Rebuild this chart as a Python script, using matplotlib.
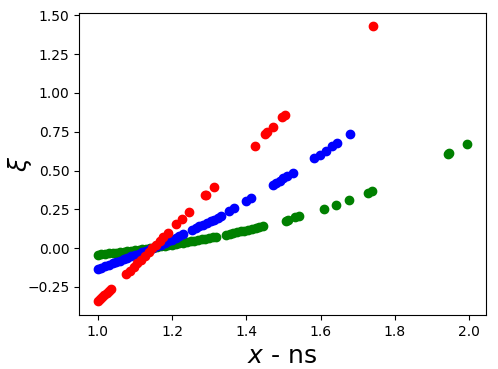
import matplotlib
matplotlib.use("Agg")
import matplotlib.pyplot as plt

# red series
red_x = [1.000, 1.006, 1.012, 1.018, 1.024, 1.030, 1.036,
         1.077, 1.087, 1.097, 1.107, 1.117, 1.127, 1.137, 1.147, 1.157,
         1.167, 1.177, 1.189,
         1.211, 1.226, 1.245, 1.288, 1.292, 1.312,
         1.423, 1.451, 1.457, 1.473, 1.497, 1.505, 1.740]
red_y = [-0.344, -0.331, -0.318, -0.305, -0.292, -0.279, -0.267,
         -0.170, -0.146, -0.122, -0.098, -0.074, -0.050, -0.026, -0.002, 0.022,
         0.046, 0.070, 0.100,
         0.154, 0.189, 0.230, 0.339, 0.345, 0.393,
         0.661, 0.735, 0.748, 0.783, 0.843, 0.858, 1.430]

# blue series
blue_x = [1.000, 1.010, 1.020, 1.030, 1.040, 1.050, 1.060, 1.070, 1.080, 1.090,
          1.100, 1.110, 1.120, 1.130, 1.140, 1.150, 1.160, 1.170, 1.180, 1.190,
          1.200, 1.210, 1.220, 1.229,
          1.254, 1.264, 1.274, 1.284, 1.294, 1.304, 1.314, 1.324, 1.331,
          1.354, 1.368, 1.400, 1.413,
          1.472, 1.480, 1.490, 1.500, 1.510, 1.525,
          1.583, 1.597, 1.614, 1.631, 1.643, 1.678]
blue_y = [-0.135, -0.126, -0.117, -0.108, -0.099, -0.090, -0.081, -0.072, -0.063, -0.054,
          -0.045, -0.036, -0.027, -0.018, -0.009, 0.001, 0.011, 0.021, 0.032, 0.043,
          0.054, 0.065, 0.077, 0.089,
          0.117, 0.128, 0.139, 0.150, 0.161, 0.172, 0.184, 0.196, 0.206,
          0.237, 0.258, 0.302, 0.324,
          0.404, 0.417, 0.433, 0.449, 0.465, 0.487,
          0.578, 0.600, 0.628, 0.656, 0.678, 0.737]

# green series
green_x = [1.000, 1.010, 1.020, 1.030, 1.040, 1.050, 1.060, 1.070, 1.080, 1.090,
           1.100, 1.110, 1.120, 1.130, 1.140, 1.150, 1.160, 1.170, 1.180, 1.190,
           1.200, 1.210, 1.220, 1.230, 1.240, 1.250, 1.260, 1.270, 1.280, 1.290,
           1.300, 1.310, 1.318,
           1.345, 1.355, 1.365, 1.375, 1.385, 1.395, 1.405, 1.415, 1.425, 1.435, 1.445,
           1.506, 1.513, 1.531, 1.543,
           1.608, 1.640, 1.675, 1.727, 1.738,
           1.942, 1.946, 1.994]
green_y = [-0.044, -0.041, -0.038, -0.035, -0.033, -0.030, -0.027, -0.024, -0.021, -0.018,
           -0.015, -0.012, -0.008, -0.005, -0.001, 0.002, 0.006, 0.010, 0.014, 0.018,
           0.022, 0.026, 0.030, 0.034, 0.039, 0.043, 0.047, 0.052, 0.056, 0.060,
           0.065, 0.070, 0.074,
           0.085, 0.090, 0.096, 0.101, 0.107, 0.112, 0.118, 0.124, 0.130, 0.136, 0.142,
           0.176, 0.183, 0.198, 0.206,
           0.254, 0.280, 0.311, 0.356, 0.369,
           0.604, 0.610, 0.672]

fig = plt.figure(figsize=(4.98, 3.69), dpi=100)
ax = fig.add_axes([0.159, 0.146, 0.816, 0.820])

# green under blue under red, as in the original
ax.scatter(green_x, green_y, color='green')
ax.scatter(blue_x, blue_y, color='blue')
ax.scatter(red_x, red_y, color='red')

ax.set_xlabel(r'$x$ - ns', fontsize=18)
ax.set_ylabel(r'$\xi$', fontsize=18)
ax.yaxis.set_label_coords(-0.11, 0.5)

fig.savefig('out.png', dpi=100)
